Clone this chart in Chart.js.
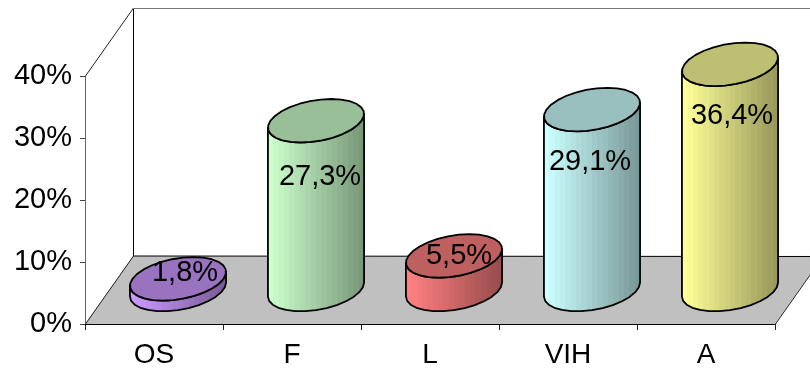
<!DOCTYPE html>
<html>
<head>
<meta charset="utf-8">
<style>
  html, body { margin: 0; background: #fff; }
  canvas { display: block; }
</style>
<script src="https://cdn.jsdelivr.net/npm/chart.js@4"></script>
</head>
<body>
<canvas id="myChart" width="810" height="368"></canvas>
<script>
const categories = ['OS', 'F', 'L', 'VIH', 'A'];
const values = [1.8, 27.3, 5.5, 29.1, 36.4];
const yTicks = [0, 10, 20, 30, 40];

// side colour (lit edge) of each cylinder, rgb
const barColors = [[204, 153, 255], [204, 255, 204], [255, 128, 128], [204, 255, 255], [255, 255, 153]];
// label nudges from the centre of the cylinder top
const labelNudge = [[7, -6], [4, 56], [5, 0], [-2, 52], [2, 52]];

// depth of the 3d box
const DX = 48, DY = 68;
const ELL = 0.32;

function shade(c, k) {
  return 'rgb(' + c.map(v => Math.round(v * k)).join(',') + ')';
}

function ellipsePts(cx, cy, ux, vx, vy, from, to, n) {
  const pts = [];
  for (let i = 0; i <= n; i++) {
    const t = from + (to - from) * i / n;
    pts.push([cx + ux * Math.cos(t) + vx * Math.sin(t), cy - vy * Math.sin(t)]);
  }
  return pts;
}

function trace(ctx, pts, start) {
  pts.forEach((p, i) => {
    if (i === 0 && start) ctx.moveTo(p[0], p[1]);
    else ctx.lineTo(p[0], p[1]);
  });
}

const box3d = {
  id: 'box3d',
  beforeDatasetsDraw(chart) {
    const { ctx, chartArea: a } = chart;
    ctx.save();
    // floor
    ctx.fillStyle = '#c0c0c0';
    ctx.beginPath();
    ctx.moveTo(a.left, a.bottom);
    ctx.lineTo(a.right, a.bottom);
    ctx.lineTo(a.right + DX, a.bottom - DY);
    ctx.lineTo(a.left + DX, a.bottom - DY);
    ctx.closePath();
    ctx.fill();

    ctx.lineWidth = 1;
    ctx.strokeStyle = '#222';
    ctx.beginPath();
    ctx.moveTo(a.left + 0.5, a.top);
    ctx.lineTo(a.left + DX + 0.5, a.top - DY);
    ctx.moveTo(a.left + 0.5, a.bottom);
    ctx.lineTo(a.left + DX + 0.5, a.bottom - DY);
    ctx.moveTo(a.right + 0.5, a.bottom);
    ctx.lineTo(a.right + DX + 0.5, a.bottom - DY);
    ctx.stroke();

    ctx.strokeStyle = '#000';
    ctx.beginPath();
    ctx.moveTo(a.left + DX + 0.5, a.top - DY);
    ctx.lineTo(a.left + DX + 0.5, a.bottom - DY);
    ctx.lineTo(a.right + DX, a.bottom - DY + 0.5);
    ctx.stroke();

    ctx.strokeStyle = '#777';
    ctx.beginPath();
    ctx.moveTo(a.left + DX, a.top - DY + 0.5);
    ctx.lineTo(a.right + DX, a.top - DY + 0.5);
    ctx.stroke();

    ctx.strokeStyle = '#000';
    ctx.beginPath();
    ctx.moveTo(a.left, a.bottom + 0.5);
    ctx.lineTo(a.right, a.bottom + 0.5);
    ctx.stroke();
    ctx.restore();
  },
  afterDatasetsDraw(chart) {
    const { ctx } = chart;
    const meta = chart.getDatasetMeta(0);
    meta.data.forEach((bar, i) => {
      const c = barColors[i];
      const ux = bar.width / 2;
      const vx = DX * ELL, vy = DY * ELL;
      const cx = bar.x + DX / 2;
      const topY = bar.y - DY / 2;
      const botY = bar.base - DY / 2;
      const t0 = Math.atan2(vx, ux);
      const half = Math.hypot(ux, vx);

      ctx.save();
      ctx.lineJoin = 'round';
      ctx.strokeStyle = '#000';
      ctx.lineWidth = 1.8;

      // side with stepped shading
      const grad = ctx.createLinearGradient(cx - half, 0, cx + half, 0);
      const bands = 18;
      for (let b = 0; b < bands; b++) {
        const col = shade(c, 1 - 0.4 * b / (bands - 1));
        grad.addColorStop(b / bands, col);
        grad.addColorStop((b + 1) / bands, col);
      }
      ctx.fillStyle = grad;
      ctx.beginPath();
      trace(ctx, ellipsePts(cx, botY, ux, vx, vy, t0, t0 - Math.PI, 14), true);
      trace(ctx, ellipsePts(cx, topY, ux, vx, vy, t0 - Math.PI, t0, 14), false);
      ctx.closePath();
      ctx.fill();
      ctx.stroke();

      // top cap
      ctx.fillStyle = shade(c, 0.75);
      ctx.beginPath();
      trace(ctx, ellipsePts(cx, topY, ux, vx, vy, 0, Math.PI * 2, 28), true);
      ctx.closePath();
      ctx.fill();
      ctx.stroke();

      // value label
      const txt = values[i].toFixed(1).replace('.', ',') + '%';
      ctx.fillStyle = '#000';
      ctx.font = '29px "Liberation Sans", Arial, sans-serif';
      ctx.textAlign = 'center';
      ctx.textBaseline = 'middle';
      ctx.fillText(txt, cx + labelNudge[i][0], topY + labelNudge[i][1]);
      ctx.restore();
    });
  }
};

new Chart(document.getElementById('myChart'), {
  type: 'bar',
  data: {
    labels: categories,
    datasets: [{
      data: values,
      backgroundColor: 'transparent',
      borderWidth: 0,
      barPercentage: 0.66,
      categoryPercentage: 1
    }]
  },
  options: {
    responsive: false,
    animation: false,
    layout: { padding: { top: 76, right: 35, left: 0, bottom: 0 } },
    plugins: { legend: { display: false }, tooltip: { enabled: false } },
    scales: {
      x: {
        afterFit(s) { s.height = 44; },
        border: { display: false },
        grid: { drawOnChartArea: false, tickLength: 6, tickColor: '#222', offset: true },
        ticks: { color: '#000', font: { family: '"Liberation Sans", Arial, sans-serif', size: 28 }, padding: 8, maxRotation: 0 }
      },
      y: {
        min: yTicks[0],
        max: yTicks[yTicks.length - 1],
        afterFit(s) { s.width = 85; },
        afterBuildTicks(s) { s.ticks = yTicks.map(v => ({ value: v })); },
        border: { color: '#666' },
        grid: { drawOnChartArea: false, tickLength: 5, tickColor: '#444' },
        ticks: {
          color: '#000',
          font: { family: '"Liberation Sans", Arial, sans-serif', size: 29 },
          padding: 8,
          callback: v => v + '%'
        }
      }
    }
  },
  plugins: [box3d]
});
</script>
</body>
</html>
